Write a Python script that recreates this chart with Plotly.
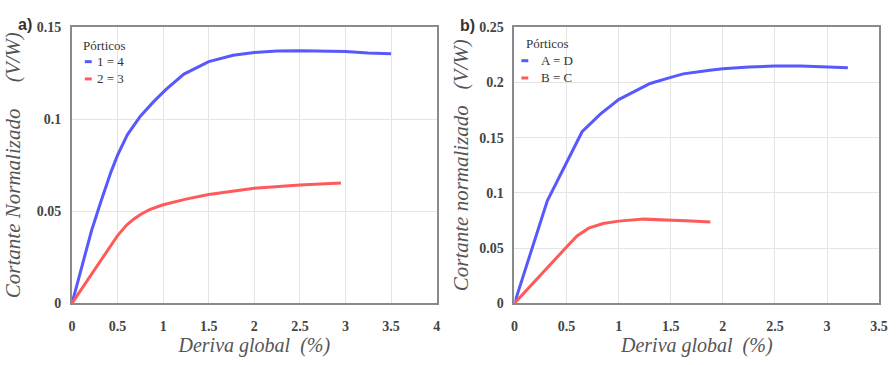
import plotly.graph_objects as go

# Panel a)
a_x_14 = [0, 0.107, 0.214, 0.321, 0.428, 0.5, 0.607, 0.75, 0.893, 1.035, 1.228, 1.5, 1.768, 2.0, 2.25, 2.5, 2.75, 3.0, 3.25, 3.5]
a_y_14 = [0, 0.0204, 0.0394, 0.0558, 0.0714, 0.0805, 0.0915, 0.1016, 0.1094, 0.1163, 0.1245, 0.1313, 0.1347, 0.1362, 0.137, 0.1372, 0.1372, 0.1368, 0.136, 0.1355]
a_x_23 = [0, 0.214, 0.321, 0.5, 0.6, 0.679, 0.76, 0.857, 1.0, 1.107, 1.25, 1.5, 1.75, 2.0, 2.5, 2.95]
a_y_23 = [0, 0.0157, 0.0236, 0.0368, 0.0425, 0.0458, 0.0485, 0.0510, 0.0535, 0.0549, 0.0566, 0.0591, 0.061, 0.0625, 0.0642, 0.0653]

# Panel b)
b_x_AD = [0, 0.315, 0.649, 0.824, 1.0, 1.15, 1.302, 1.5, 1.62, 1.875, 2.0, 2.25, 2.5, 2.75, 3.0, 3.2]
b_y_AD = [0, 0.0928, 0.1553, 0.1713, 0.1844, 0.192, 0.199, 0.2045, 0.2077, 0.211, 0.2124, 0.214, 0.2148, 0.2148, 0.2142, 0.2133]
b_x_BC = [0, 0.25, 0.5, 0.6, 0.713, 0.85, 1.0, 1.24, 1.5, 1.7, 1.88]
b_y_BC = [0, 0.026, 0.051, 0.061, 0.068, 0.0722, 0.0744, 0.0762, 0.0756, 0.0745, 0.0735]

a_xticks = [0, 0.5, 1, 1.5, 2, 2.5, 3, 3.5, 4]
a_yticks = [0, 0.05, 0.1, 0.15]
b_xticks = [0, 0.5, 1, 1.5, 2, 2.5, 3, 3.5]
b_yticks = [0, 0.05, 0.1, 0.15, 0.2, 0.25]

a_names = ["1 = 4", "2 = 3"]
b_names = ["A = D", "B = C"]

BLUE = "#5858ff"
RED = "#ff5a5a"
SERIF = "Liberation Serif"
W, H = 896, 365

fig = go.Figure()

def px(x):
    return x / W

def py(y):
    return 1 - y / H

fig.add_trace(go.Scatter(x=a_x_14, y=a_y_14, name=a_names[0], mode="lines",
                         line=dict(color=BLUE, width=3), xaxis="x", yaxis="y", showlegend=False))
fig.add_trace(go.Scatter(x=a_x_23, y=a_y_23, name=a_names[1], mode="lines",
                         line=dict(color=RED, width=3), xaxis="x", yaxis="y", showlegend=False))
fig.add_trace(go.Scatter(x=b_x_AD, y=b_y_AD, name=b_names[0], mode="lines",
                         line=dict(color=BLUE, width=3), xaxis="x2", yaxis="y2", showlegend=False))
fig.add_trace(go.Scatter(x=b_x_BC, y=b_y_BC, name=b_names[1], mode="lines",
                         line=dict(color=RED, width=3), xaxis="x2", yaxis="y2", showlegend=False))

axis_common = dict(showgrid=True, gridcolor="#e4e4e4", gridwidth=1, zeroline=False,
                   showline=True, linecolor="#8a8a8a", linewidth=2, mirror=True,
                   ticks="", tickfont=dict(family=SERIF, size=14, color="#444", weight="bold"))
title_font = dict(family=SERIF, size=20, color="#555555", style="italic")

ydom = [1 - 309 / H, 1 - 21 / H]
fig.update_layout(
    width=W, height=H, margin=dict(l=0, r=0, t=0, b=0),
    paper_bgcolor="white", plot_bgcolor="white",
    font=dict(family=SERIF, color="#333"),
    showlegend=False,
    xaxis=dict(domain=[69 / W, 439 / W], range=[0, 4], tickvals=a_xticks, ticklabelstandoff=9,
               title=dict(text="Deriva global  (%)", font=title_font, standoff=5), anchor="y", **axis_common),
    yaxis=dict(domain=ydom, range=[0, 0.15], tickvals=a_yticks, ticktext=["0", "0.05", "0.1", "0.15"],
               ticklabelstandoff=6,
               title=dict(text="Cortante Normalizado&nbsp;&nbsp;&nbsp;&nbsp;&nbsp;(V/W)", font=dict(title_font, size=21), standoff=10),
               anchor="x", **axis_common),
    xaxis2=dict(domain=[518 / W, 888 / W], range=[0, 3.5], tickvals=b_xticks, ticklabelstandoff=9,
                title=dict(text="Deriva global  (%)", font=title_font, standoff=5), anchor="y2", **axis_common),
    yaxis2=dict(domain=ydom, range=[0, 0.25], tickvals=b_yticks, ticktext=["0", "0.05", "0.1", "0.15", "0.2", "0.25"],
                ticklabelstandoff=6,
                title=dict(text="Cortante normalizado&nbsp;&nbsp;&nbsp;(V/W)", font=dict(title_font, size=21), standoff=5),
                anchor="x2", **axis_common),
)

# Legends (title + short coloured dashes + labels)
leg_font = dict(family=SERIF, size=13, color="#333")
def legend(title_xy, items):
    tx, ty = title_xy
    fig.add_annotation(text="Pórticos", x=px(tx), y=py(ty), xref="paper", yref="paper",
                       xanchor="left", yanchor="middle", showarrow=False, font=leg_font)
    for (dx0, dx1, lx, ly, color, name) in items:
        fig.add_shape(type="line", x0=px(dx0), x1=px(dx1), y0=py(ly), y1=py(ly), xref="paper", yref="paper",
                      line=dict(color=color, width=3))
        fig.add_annotation(text=name, x=px(lx), y=py(ly), xref="paper", yref="paper",
                           xanchor="left", yanchor="middle", showarrow=False, font=leg_font)

legend((78, 40), [(82, 89, 92, 57, BLUE, a_names[0]), (82, 89, 92, 75, RED, a_names[1])])
legend((528, 38), [(525, 532, 543, 56, BLUE, b_names[0]), (525, 532, 543, 74, RED, b_names[1])])

fig.add_annotation(text="<b>a)</b>", x=px(12), y=py(18), xref="paper", yref="paper", xanchor="left", yanchor="middle",
                   showarrow=False, font=dict(family="Liberation Sans", size=16, color="#333"))
fig.add_annotation(text="<b>b)</b>", x=px(461), y=py(19), xref="paper", yref="paper", xanchor="left", yanchor="middle",
                   showarrow=False, font=dict(family="Liberation Sans", size=16, color="#333"))

fig.write_html("out.html")
